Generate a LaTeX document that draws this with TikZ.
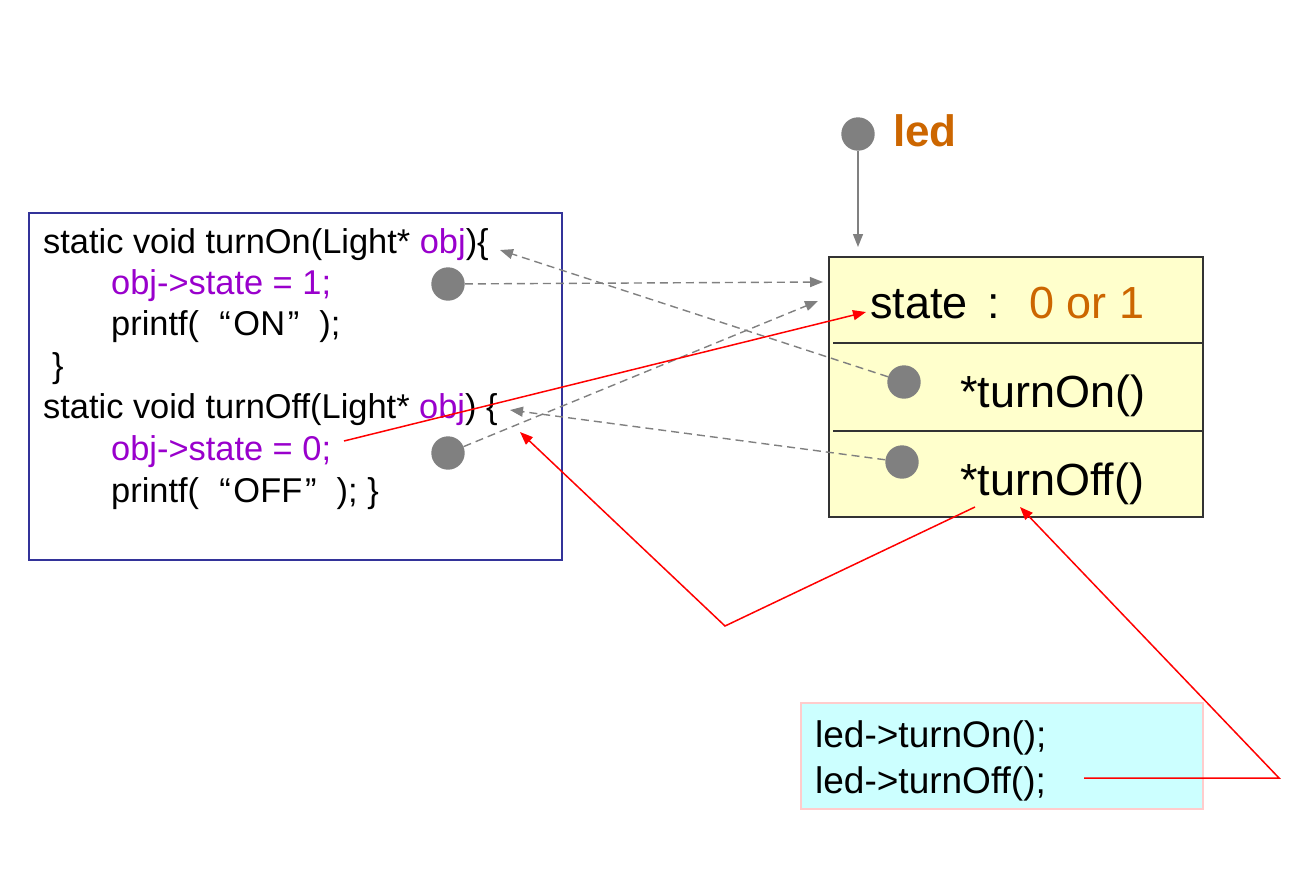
\documentclass[tikz,border=0pt]{standalone}
\usepackage{fontspec}
\setmainfont{Liberation Sans}
\usetikzlibrary{arrows.meta}
\definecolor{objpurple}{HTML}{9900CC}
\definecolor{valorange}{HTML}{CC6600}
\definecolor{codeblue}{HTML}{333399}
\definecolor{dotgray}{HTML}{808080}
\definecolor{objyellow}{HTML}{FFFFCC}
\definecolor{objdark}{HTML}{333333}
\definecolor{callcyan}{HTML}{CCFFFF}
\definecolor{callpink}{HTML}{FFCCCC}
\newcommand{\wideopen}{\makebox[1em][r]{“\kern0.08em}}
\newcommand{\wideclose}{\makebox[1em][l]{\kern0.08em”}}
\tikzset{
  dot/.style={circle, fill=dotgray, inner sep=0pt, minimum size=33.4pt},
  ptr/.style={dotgray, line width=1.4pt, dash pattern=on 8pt off 5pt,
    -{Triangle[length=13pt,width=10pt]}},
  ledptr/.style={dotgray, line width=1.4pt, -{Triangle[length=13pt,width=10pt]}},
  wire/.style={red, line width=1.5pt, -{Triangle[length=13pt,width=10pt]}},
  code/.style={anchor=base west, inner sep=0pt, font=\fontsize{34.4}{41}\selectfont},
  slot/.style={anchor=base west, inner sep=0pt, font=\fontsize{45}{54}\selectfont},
  call/.style={anchor=base west, inner sep=0pt, font=\fontsize{37}{46}\selectfont},
}
\begin{document}
\begin{tikzpicture}[x=1pt,y=-1pt]
                    \useasboundingbox (0,0) rectangle (1296,868);
                    
                    % Drawing code box
                    \draw [line width=1.5pt, codeblue] (29.000000,213.000000) rectangle (562.000000,560.000000);%
                    
                    % Marking code lines
                    \node (fnOn) [code] at (43.000000,253.000000) {static void turnOn(Light* \textcolor{objpurple}{obj})\{};%
                    \node (setOn) [code, objpurple] at (111.000000,294.000000) {obj->state = 1;};%
                    \node (printOn) [code] at (111.000000,335.000000) {printf(\wideopen ON\wideclose);};%
                    \node (closeOn) [code] at (52.000000,377.000000) {\}};%
                    \node (fnOff) [code] at (43.000000,418.000000) {static void turnOff(Light* \textcolor{objpurple}{obj}) \{};%
                    \node (setOff) [code, objpurple] at (111.000000,460.000000) {obj->state = 0;};%
                    \node (printOff) [code] at (111.000000,502.000000) {printf(\wideopen OFF\wideclose); \}};%
                    
                    % Drawing object box led
                    \draw [line width=2pt, draw=objdark, fill=objyellow] (829.000000,257.000000) rectangle (1203.000000,517.000000);%
                    \draw [line width=2pt, objdark] (833.000000,343.000000) -- (1203.000000,343.000000);%
                    \draw [line width=2pt, objdark] (833.000000,431.000000) -- (1203.000000,431.000000);%
                    
                    % Marking object members
                    \node (stateLbl) [slot] at (870.000000,318.000000) {state\hspace{20pt}:\hspace{29pt}\textcolor{valorange}{0 or 1}};%
                    \node (turnOnLbl) [slot] at (960.000000,407.000000) {*turnOn()};%
                    \node (turnOffLbl) [slot] at (960.000000,495.000000) {*turnOff()};%
                    
                    % Drawing call box
                    \draw [line width=1.5pt, draw=callpink, fill=callcyan] (801.000000,703.000000) rectangle (1203.000000,809.000000);%
                    \node (callOn) [call] at (815.000000,747.000000) {led->turnOn();};%
                    \node (callOff) [call] at (815.000000,793.000000) {led->turnOff();};%
                    
                    % Marking pointer led
                    \node (ledDot) [dot] at (858.000000,134.000000) {};%
                    \node (ledLbl) [anchor=base west, inner sep=0pt, valorange, font=\bfseries\fontsize{44}{53}\selectfont] at (893.000000,146.000000) {led};%
                    
                    % Marking pointer dots
                    \node (onDot) [dot] at (448.000000,284.000000) {};%
                    \node (offDot) [dot] at (448.000000,453.000000) {};%
                    \node (onSlot) [dot] at (904.000000,382.000000) {};%
                    \node (offSlot) [dot] at (902.000000,462.000000) {};%
                    
                    % Free ends of connectors
                    \coordinate (ledTip) at (858.000000,247.000000);
                    \coordinate (stateA) at (823.000000,282.000000);
                    \coordinate (stateB) at (818.000000,301.000000);
                    \coordinate (objOn) at (500.000000,250.000000);
                    \coordinate (objOff) at (510.000000,410.000000);
                    \coordinate (setOffEnd) at (344.000000,441.000000);
                    \coordinate (stateTip) at (866.000000,312.000000);
                    \coordinate (offFoot) at (975.000000,507.000000);
                    \coordinate (bendL) at (725.000000,626.000000);
                    \coordinate (objOffTip) at (520.000000,432.000000);
                    \coordinate (callOffEnd) at (1084.000000,778.000000);
                    \coordinate (bendR) at (1279.000000,778.000000);
                    \coordinate (turnOffTip) at (1020.000000,507.000000);
                    
                    % Drawing pointers
                    \draw [ledptr] (ledDot) -- (ledTip);%
                    \draw [ptr] (onDot) -- (stateA);%
                    \draw [ptr] (offDot) -- (stateB);%
                    \draw [ptr] (onSlot) -- (objOn);%
                    \draw [ptr] (offSlot) -- (objOff);%
                    
                    % Drawing calls
                    \draw [wire] (setOffEnd) -- (stateTip);%
                    \draw [wire] (offFoot) -- (bendL) -- (objOffTip);%
                    \draw [wire] (callOffEnd) -- (bendR) -- (turnOffTip);%
\end{tikzpicture}
\end{document}
